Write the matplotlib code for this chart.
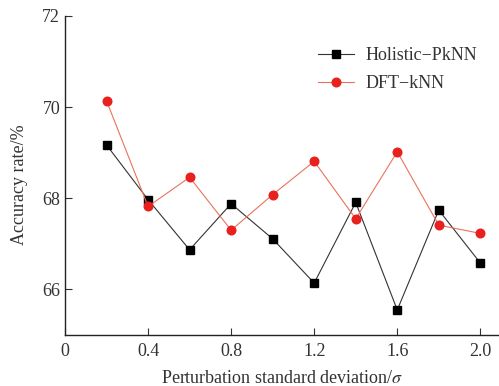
import matplotlib
matplotlib.use("Agg")
import matplotlib.pyplot as plt

x = [0.2, 0.4, 0.6, 0.8, 1.0, 1.2, 1.4, 1.6, 1.8, 2.0]
holistic = [69.17, 67.97, 66.87, 67.88, 67.11, 66.14, 67.91, 65.55, 67.74, 66.58]
dft = [70.14, 67.82, 68.46, 67.30, 68.08, 68.81, 67.55, 69.02, 67.41, 67.23]
xticks = [0, 0.4, 0.8, 1.2, 1.6, 2.0]
xticklabels = ["0", "0.4", "0.8", "1.2", "1.6", "2.0"]
yticks = [66, 68, 70, 72]

plt.rcParams['font.family'] = ['Liberation Serif', 'DejaVu Serif']
plt.rcParams['mathtext.fontset'] = 'stix'

fig = plt.figure(figsize=(4.99, 3.86), dpi=100)
ax = fig.add_axes([65/499, 1-335/386, 1-65/499, (335-16)/386])

ax.plot(x, holistic, color='#333333', lw=0.8, marker='s', ms=5.2,
        mfc='black', mec='black', label='Holistic\u2212PkNN')
ax.plot(x, dft, color='#e8735a', lw=0.8, marker='o', ms=6.2,
        mfc='#e8201e', mec='#e8201e', label='DFT\u2212kNN')

ax.set_xlim(0, 2.09)
ax.set_ylim(65, 72)
ax.set_xticks(xticks)
ax.set_xticklabels(xticklabels)
ax.set_yticks(yticks)
for s in ['top', 'right']:
    ax.spines[s].set_visible(False)
for s in ['left', 'bottom']:
    ax.spines[s].set_linewidth(1.0)
    ax.spines[s].set_color('#222222')
ax.tick_params(direction='in', length=5, width=0.8, labelsize=13, colors='#333333')
ax.tick_params(axis='x', pad=6)
ax.set_xlabel('Perturbation standard deviation/$\\sigma$', fontsize=13, color='#333333', labelpad=7)
ax.set_ylabel('Accuracy rate/%', fontsize=13, color='#333333')
ax.yaxis.set_label_coords(-0.085, 0.47)

leg = ax.legend(loc='upper left', bbox_to_anchor=(0.546, 0.953), frameon=False,
                fontsize=13, handlelength=2.0, handletextpad=0.6,
                labelspacing=0.6, labelcolor='#333333')

fig.savefig('out.png', dpi=100)
